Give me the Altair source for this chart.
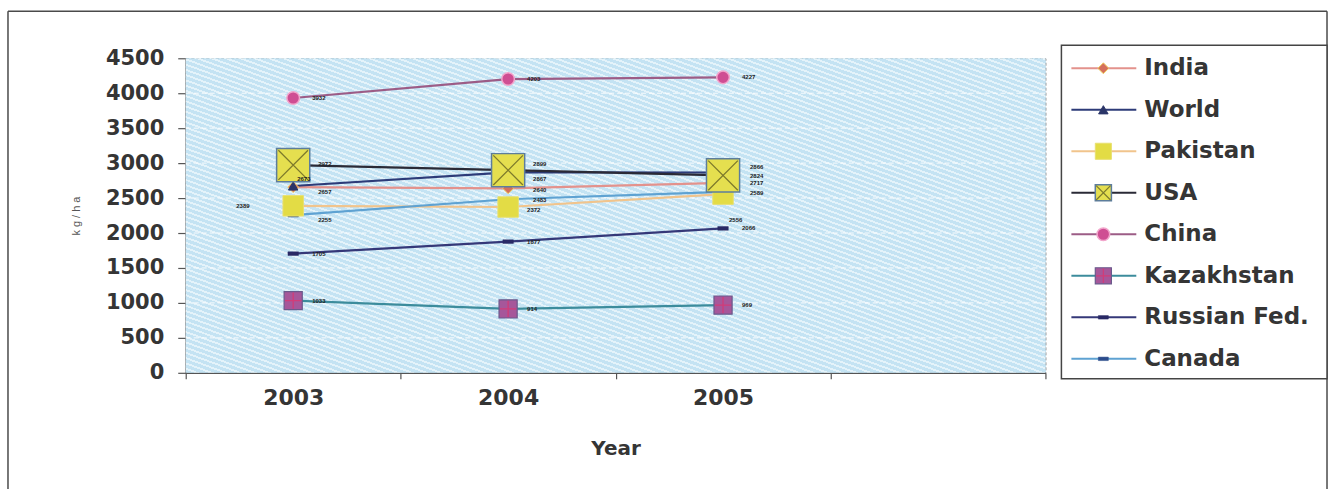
import altair as alt
import pandas as pd

# ---- data -------------------------------------------------------------
years = ["2003", "2004", "2005"]
x_slots = ["2003", "2004", "2005", ""]          # last slot is left empty on the axis

india = [2657, 2640, 2717]
world = [2673, 2867, 2866]
pakistan = [2389, 2372, 2556]
usa = [2972, 2899, 2824]
china = [3932, 4203, 4227]
kazakhstan = [1033, 914, 969]
russian_fed = [1705, 1877, 2066]
canada = [2255, 2483, 2589]

series_names = ["India", "World", "Pakistan", "USA", "China",
                "Kazakhstan", "Russian Fed.", "Canada"]
series_values = [india, world, pakistan, usa, china,
                 kazakhstan, russian_fed, canada]

y_ticks = [0, 500, 1000, 1500, 2000, 2500, 3000, 3500, 4000, 4500]

df = pd.DataFrame(
    [{"series": s, "year": y, "value": v}
     for s, vals in zip(series_names, series_values)
     for y, v in zip(years, vals)]
)
legend_df = pd.DataFrame({"series": series_names})

# ---- styles -----------------------------------------------------------
FONT = "DejaVu Sans"
SMALL_FONT = "Liberation Sans"
INK = "#353535"
DASH = "M-1,-0.35L1,-0.35L1,0.35L-1,0.35Z"
XMARK = "M-1,-1L1,1M-1,1L1,-1"
PLUS = "M0,-1L0,1M-1,0L1,0"

style = {
    "India":        dict(line="#e3928c", shape="diamond", fill="#d5705c", stroke="#f0d060", sw=1, size=120,
                         over=None, over_color=None),
    "World":        dict(line="#2d3b78", shape="triangle-up", fill="#2a3568", stroke="#2a3568", sw=1, size=90,
                         over=None, over_color=None),
    "Pakistan":     dict(line="#f1c48c", shape="square", fill="#e3dc45", stroke="#e8e070", sw=1, size=420,
                         over=None, over_color=None),
    "USA":          dict(line="#2a2a36", shape="square", fill="#e5df4f", stroke="#5d7d9c", sw=1.5, size=1100,
                         over=XMARK, over_color="#7d7a2c"),
    "China":        dict(line="#9c5c86", shape="circle", fill="#cf4e93", stroke="#f2a6cc", sw=1.5, size=160,
                         over=None, over_color=None),
    "Kazakhstan":   dict(line="#3c8c9c", shape="square", fill="#a6579a", stroke="#6a5a8c", sw=1.2, size=330,
                         over=PLUS, over_color="#d23c78"),
    "Russian Fed.": dict(line="#353878", shape=DASH, fill="#2a2a66", stroke="#2a2a66", sw=0.5, size=110,
                         over=None, over_color=None),
    "Canada":       dict(line="#5ea2d2", shape=DASH, fill="#2c4c8c", stroke="#2c4c8c", sw=0.5, size=110,
                         over=None, over_color=None),
}
draw_order = ["Canada", "Russian Fed.", "Kazakhstan", "India", "World", "Pakistan", "China", "USA"]

# where each series puts its small value labels, one (dx, dy) per year
label_offsets = {s: [(19, 0), (19, 0), (19, 0)] for s in series_names}
label_offsets["Pakistan"] = [(-57, 0), (19, 3), (6, 26)]
label_offsets["USA"] = [(25, -1), (25, -6), (27, 1)]
label_offsets["World"] = [(4, -7), (25, 7), (27, -5)]
label_offsets["India"] = [(25, 5), (25, 2), (27, 0)]
label_offsets["Canada"] = [(25, 5), (25, 1), (27, 1)]

W, H = 861, 315          # plot area
LW, LH = 266, 315        # legend panel

# diagonal hatch of the plot area, built as a striped linear gradient
N_STRIPES = 120
stops = []
for k in range(N_STRIPES):
    a = k / N_STRIPES
    b = (k + 0.62) / N_STRIPES
    c = (k + 1) / N_STRIPES
    stops += [
        alt.GradientStop(color="#c4e3f3", offset=a),
        alt.GradientStop(color="#c4e3f3", offset=b),
        alt.GradientStop(color="#e4f3fa", offset=b),
        alt.GradientStop(color="#e4f3fa", offset=c),
    ]
hatch = alt.LinearGradient(gradient="linear", stops=stops, x1=0, y1=1, x2=1, y2=0)

# ---- scales & axes ----------------------------------------------------
xs = alt.Scale(type="band", domain=x_slots, paddingInner=0, paddingOuter=0)
ys = alt.Scale(domain=[0, 4500], nice=False, zero=True)

x_axis = alt.Axis(
    title="Year", titleFont=FONT, titleFontSize=20, titleFontWeight="bold", titleColor=INK,
    titlePadding=30,
    labelFont=FONT, labelFontSize=22, labelFontWeight="bold", labelColor=INK, labelAngle=0,
    labelPadding=9, tickBand="extent", tickSize=6, tickColor="#555", tickWidth=1.2,
    domainColor="#555", domainWidth=1.5, grid=False,
)
y_axis = alt.Axis(
    title="k g / h a", titleFont=SMALL_FONT, titleFontSize=11, titleFontWeight="normal", titleColor="#555",
    titleX=-109, titleY=H / 2, titleBaseline="middle", titleAngle=270,
    values=y_ticks, format="d",
    labelFont=FONT, labelFontSize=21, labelFontWeight="bold", labelColor=INK,
    labelPadding=14, tickSize=8, tickColor="#555", tickWidth=1.2,
    domainColor="#555", domainWidth=1.5, grid=False,
)
X = alt.X("year:N", scale=xs, axis=x_axis, bandPosition=0.5)
Y = alt.Y("value:Q", scale=ys, axis=y_axis)

one_row = alt.Data(values=[{}])

# ---- main panel -------------------------------------------------------
background = alt.Chart(one_row).mark_rect(fill=hatch).encode(
    x=alt.value(0), x2=alt.value(W), y=alt.value(0), y2=alt.value(H)
)
grid = alt.Chart(pd.DataFrame({"tick": y_ticks[1:-1]})).mark_rule(
    stroke="white", strokeDash=[5, 3], strokeWidth=1, opacity=0.85
).encode(y=alt.Y("tick:Q", scale=ys, axis=y_axis))

layers = [background, grid]
for s in series_names:
    st = style[s]
    layers.append(
        alt.Chart(df).transform_filter(alt.datum.series == s)
        .mark_line(stroke=st["line"], strokeWidth=2.2)
        .encode(x=X, y=Y)
    )
for s in draw_order:
    st = style[s]
    base = alt.Chart(df).transform_filter(alt.datum.series == s)
    layers.append(
        base.mark_point(shape=st["shape"], filled=True, fill=st["fill"], stroke=st["stroke"],
                        strokeWidth=st["sw"], size=st["size"], opacity=1)
        .encode(x=X, y=Y)
    )
    if st["over"]:
        layers.append(
            base.mark_point(shape=st["over"], filled=False, stroke=st["over_color"],
                            strokeWidth=1.3, size=st["size"] * 0.8, opacity=1)
            .encode(x=X, y=Y)
        )

# small value labels next to every point
for s in series_names:
    for yr, (dx, dy) in zip(years, label_offsets[s]):
        layers.append(
            alt.Chart(df)
            .transform_filter((alt.datum.series == s) & (alt.datum.year == yr))
            .mark_text(align="left", baseline="middle", dx=dx, dy=dy, fontSize=6,
                       fontWeight="bold", color="#222", font=SMALL_FONT)
            .encode(x=X, y=Y, text=alt.Text("value:Q", format="d"))
        )

# outer frame of the figure
frame_kw = dict(stroke="#4a4a4a", strokeWidth=1.5)
layers += [
    alt.Chart(one_row).mark_rule(**frame_kw).encode(
        x=alt.value(-178), y=alt.value(-47), y2=alt.value(432)),
    alt.Chart(one_row).mark_rule(**frame_kw).encode(
        x=alt.value(-178), x2=alt.value(1143), y=alt.value(-47)),
    alt.Chart(one_row).mark_rule(**frame_kw).encode(
        x=alt.value(1143), y=alt.value(-47), y2=alt.value(432)),
]

main = alt.layer(*layers).properties(width=W, height=H)

# ---- legend panel -----------------------------------------------------
LY = alt.Y("series:N", axis=None,
           scale=alt.Scale(type="point", domain=series_names, range=[10, 301], padding=0))

leg_layers = [
    alt.Chart(one_row).mark_rect(fill="white", stroke="#444", strokeWidth=1.5).encode(
        x=alt.value(0), x2=alt.value(LW), y=alt.value(-13), y2=alt.value(321))
]
for s in series_names:
    st = style[s]
    base = alt.Chart(legend_df).transform_filter(alt.datum.series == s)
    leg_layers.append(
        base.mark_rule(stroke=st["line"], strokeWidth=2).encode(
            y=LY, x=alt.value(10), x2=alt.value(75))
    )
    leg_size = min(st["size"], 260) if st["shape"] != DASH else 100
    leg_layers.append(
        base.mark_point(shape=st["shape"], filled=True, fill=st["fill"], stroke=st["stroke"],
                        strokeWidth=st["sw"], size=leg_size, opacity=1)
        .encode(y=LY, x=alt.value(42))
    )
    if st["over"]:
        leg_layers.append(
            base.mark_point(shape=st["over"], filled=False, stroke=st["over_color"],
                            strokeWidth=1.2, size=leg_size * 0.8, opacity=1)
            .encode(y=LY, x=alt.value(42))
        )
leg_layers.append(
    alt.Chart(legend_df).mark_text(
        align="left", baseline="middle", fontSize=23, fontWeight="bold", color=INK, font=FONT
    ).encode(y=LY, x=alt.value(83), text="series:N")
)
legend = alt.layer(*leg_layers).properties(
    width=LW, height=LH, view=alt.ViewBackground(strokeOpacity=0, fillOpacity=0)
)

chart = alt.hconcat(main, legend, spacing=16, bounds="flush").properties(
    padding={"left": 6, "top": 9, "right": 6, "bottom": 0},
    autosize=alt.AutoSizeParams(type="pad"),
).configure(font=FONT, background="white").configure_view(
    stroke="#8a8a8a", strokeDash=[3, 2], strokeWidth=1, fill="#c8e5f4"
)

chart.save("out.html", embed_options={"renderer": "svg", "actions": False})
